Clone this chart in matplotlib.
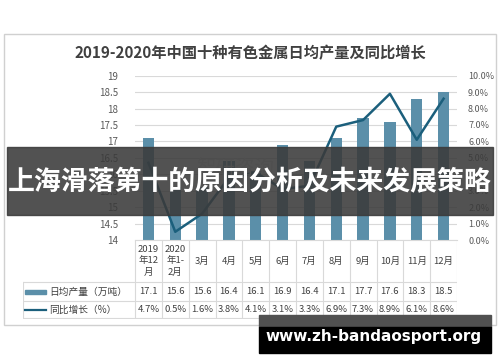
import numpy as np
import matplotlib.pyplot as plt
from matplotlib.patches import Rectangle
from matplotlib.lines import Line2D

plt.rcParams['font.family'] = ['Noto Sans CJK SC', 'DejaVu Sans']

# data
months = ["2019\n年12\n月", "2020\n年1-\n2月", "3月", "4月", "5月", "6月",
          "7月", "8月", "9月", "10月", "11月", "12月"]
output = [17.1, 15.6, 15.6, 16.4, 16.1, 16.9, 16.4, 17.1, 17.7, 17.6, 18.3, 18.5]
growth = [4.7, 0.5, 1.6, 3.8, 4.1, 3.1, 3.3, 6.9, 7.3, 8.9, 6.1, 8.6]
series_names = ["日均产量（万吨）", "同比增长（%）"]
title = "2019-2020年中国十种有色金属日均产量及同比增长"
banner = "上海滑落第十的原因分析及未来发展策略"
site = "www.zh-bandaosport.org"

bar_color = "#5b8fa9"
line_color = "#1b5f7c"
grid_color = "#d9d9d9"
txt = "#404040"
tick_c = "#595959"

W, H = 500, 362
fig = plt.figure(figsize=(W / 100, H / 100), dpi=100)

def box(x0, y0, x1, y1):
    # pixel box (top-left origin) -> figure fraction rect
    return [x0 / W, 1 - y1 / H, (x1 - x0) / W, (y1 - y0) / H]

# outer frame
fig.patches.append(Rectangle((4 / W, 1 - 325 / H), 492 / W, 291 / H,
                             transform=fig.transFigure, fill=False,
                             edgecolor="#d0d0d0", lw=1))

fig.text(250 / W, 1 - 53 / H, title, ha="center", va="center",
         fontsize=11, fontweight="bold", color=txt)

x = np.arange(len(months))
ax = fig.add_axes(box(135, 75.7, 457, 240))
ax.bar(x, output, width=0.42, color=bar_color, zorder=2)
ax.set_xlim(-0.5, len(months) - 0.5)
ax.set_ylim(14, 19)
ax.set_yticks(np.arange(14, 19.01, 0.5))
ax.set_yticklabels([f"{v:g}" for v in np.arange(14, 19.01, 0.5)])
ax.yaxis.grid(True, color=grid_color, lw=0.8, zorder=0)
ax.set_xticks([])
ax.tick_params(axis="y", length=0, labelsize=7, labelcolor=tick_c, pad=12)
for s in ["top", "left", "right"]:
    ax.spines[s].set_visible(False)
ax.spines["bottom"].set_color(grid_color)

ax2 = ax.twinx()
ax2.plot(x, growth, color=line_color, lw=1.8, zorder=3)
ax2.set_ylim(0, 10)
ax2.set_yticks(np.arange(0, 10.01, 1))
ax2.set_yticklabels([f"{v:.1f}%" for v in np.arange(0, 10.01, 1)])
ax2.tick_params(axis="y", length=0, labelsize=6.5, labelcolor=tick_c, pad=8)
for s in ax2.spines.values():
    s.set_visible(False)

# data table under the plot
left_px, col_w = 22.7, (457 - 135) / 12
x_left = -0.5 - (135 - left_px) / col_w

def px2x(px):
    return x_left + (px - left_px) / col_w

tb = fig.add_axes(box(left_px, 240, 457, 318.5))
tb.set_xlim(x_left, len(months) - 0.5)
tb.set_ylim(318.5, 240)
tb.axis("off")
for i in range(len(months) + 1):
    tb.plot([i - 0.5, i - 0.5], [240, 318], color=grid_color, lw=0.8)
tb.plot([x_left, x_left], [282, 318], color=grid_color, lw=0.8)
for yy in [282, 301, 318]:
    tb.plot([x_left, len(months) - 0.5], [yy, yy], color=grid_color, lw=0.8)
for i, m in enumerate(months):
    tb.text(i, 261, m, ha="center", va="center", fontsize=6.8, color=txt,
            linespacing=1.35)
    tb.text(i, 291.5, f"{output[i]:.1f}", ha="center", va="center",
            fontsize=6.8, color=txt)
    tb.text(i, 309.5, f"{growth[i]:.1f}%", ha="center", va="center",
            fontsize=6.8, color=txt)
tb.add_patch(Rectangle((px2x(25), 289.5), px2x(46) - px2x(25), 4.5,
                       color=bar_color))
tb.add_line(Line2D([px2x(25), px2x(46)], [309.5, 309.5], color=line_color, lw=1.6))
tb.text(px2x(49), 291.5, series_names[0], ha="left", va="center", fontsize=7,
        color=txt)
tb.text(px2x(49), 309.5, series_names[1], ha="left", va="center", fontsize=7,
        color=txt)

# faint watermark, banner and site label on top
fig.text(235 / W, 1 - 168 / H, "智研咨询", ha="center", va="center",
         fontsize=14, color="#e3e3e3", zorder=1)
fig.patches.append(Rectangle((7 / W, 1 - 215 / H), 486 / W, 68 / H,
                             transform=fig.transFigure, color="#3a3a3a",
                             alpha=0.88, zorder=5))
fig.text(250 / W, 1 - 182 / H, banner, ha="center", va="center",
         fontsize=19.4, fontweight="bold", color="white", zorder=6)
fig.patches.append(Rectangle((259 / W, 1 - 327 / H), 232 / W, 12 / H,
                             transform=fig.transFigure, color="#505050",
                             zorder=5))
fig.patches.append(Rectangle((259 / W, 1 - 353 / H), 232 / W, 26 / H,
                             transform=fig.transFigure, color="black",
                             zorder=5))
fig.text(374 / W, 1 - 337 / H, site, ha="center", va="center",
         fontsize=11, fontweight="bold", color="white", family="DejaVu Sans",
         zorder=6)

fig.savefig("out.png", dpi=100)
